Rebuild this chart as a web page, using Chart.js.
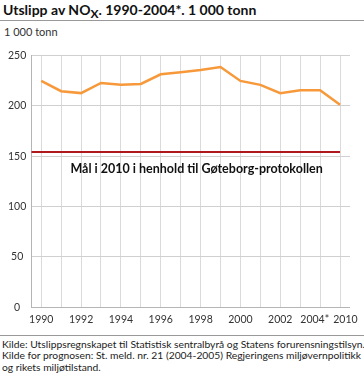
<!DOCTYPE html>
<html lang="no">
<head>
    <meta charset="UTF-8">
    <title>Utslipp av NOx</title>
    <script src="https://cdn.jsdelivr.net/npm/chart.js"></script>
    <style>
        body { margin: 0; width: 364px; height: 378px; position: relative; font-family: Lato, sans-serif; color: #222; background: #fff; overflow: hidden; }
        .title { position: absolute; left: 3px; top: 1px; font-size: 14px; font-weight: bold; white-space: nowrap; color: #111; }
        .title sub { font-size: 12px; vertical-align: -3px; }
        .rule { position: absolute; left: 0; width: 364px; height: 1px; background: #999; }
        .unit { position: absolute; left: 4px; top: 25px; font-size: 11px; color: #333; }
        .chartbox { position: absolute; left: 0; top: 44px; width: 364px; height: 288px; }
        .source { position: absolute; left: 2px; top: 339px; font-size: 10.3px; line-height: 11.3px; color: #222; white-space: nowrap; }
    </style>
</head>
<body>
    <div class="title">Utslipp av NO<sub>X</sub>. 1990-2004*. 1 000 tonn</div>
    <div class="rule" style="top:20px"></div>
    <div class="unit">1 000 tonn</div>
    <div class="chartbox"><canvas id="lineChart" width="364" height="288"></canvas></div>
    <div class="rule" style="top:335px"></div>
    <div class="source">Kilde: Utslippsregnskapet til Statistisk sentralbyrå og Statens forurensningstilsyn.<br>Kilde for prognosen: St. meld. nr. 21 (2004-2005) Regjeringens miljøvernpolitikk<br>og rikets miljøtilstand.</div>
    <script>
        // years on the x axis (2010 is the prognosis)
        var years = ['1990', '1991', '1992', '1993', '1994', '1995', '1996', '1997', '1998', '1999',
                     '2000', '2001', '2002', '2003', '2004*    ', '    2010'];

        // NOx emissions, 1 000 tonn
        var emissions = [224.6, 214.4, 212.5, 222.6, 220.7, 221.6, 231.2, 233.2, 235.5, 238.4,
                         224.6, 220.7, 212.5, 215.4, 215.4, 200.9];

        // target level from the Gothenburg protocol
        var target = 154;
        var targetLabel = 'Mål i 2010 i henhold til Gøteborg-protokollen';

        var yTicks = [0, 50, 100, 150, 200, 250];

        // writes the target text just under the red line
        var targetText = {
            id: 'targetText',
            afterDatasetsDraw: function (chart) {
                var ctx = chart.ctx;
                var area = chart.chartArea;
                var y = chart.scales.y.getPixelForValue(target);
                ctx.save();
                ctx.font = 'bold 12.5px Lato';
                ctx.fillStyle = '#111';
                ctx.textAlign = 'center';
                ctx.textBaseline = 'alphabetic';
                ctx.fillText(targetLabel, (area.left + area.right) / 2 + 6, y + 21);
                ctx.restore();
            }
        };

        var ctx = document.getElementById('lineChart').getContext('2d');
        var chart = new Chart(ctx, {
            type: 'line',
            data: {
                labels: years,
                datasets: [{
                    label: 'Utslipp',
                    data: emissions,
                    borderColor: '#f7993a',
                    borderWidth: 2.5,
                    pointRadius: 0,
                    tension: 0
                }, {
                    label: 'Mål',
                    data: [{ x: -0.5, y: target }, { x: years.length - 1, y: target }],
                    xAxisID: 'x2',
                    borderColor: '#b0181e',
                    borderWidth: 2,
                    pointRadius: 0
                }]
            },
            options: {
                responsive: false,
                animation: false,
                layout: { padding: { left: 3, right: 13, top: 9, bottom: 0 } },
                plugins: {
                    legend: { display: false },
                    tooltip: { enabled: false }
                },
                scales: {
                    x: {
                        type: 'category',
                        offset: true,
                        grid: { color: '#dadada', drawTicks: false, offset: false },
                        border: { color: '#b5b5b5' },
                        ticks: {
                            autoSkip: false,
                            maxRotation: 0,
                            padding: 6,
                            color: '#333',
                            font: { family: 'Lato', size: 10.5 },
                            callback: function (value, index) {
                                return (index % 2 === 0 || index === years.length - 1) ? years[index] : '';
                            }
                        }
                    },
                    x2: {
                        type: 'linear',
                        display: false,
                        min: -0.5,
                        max: years.length - 0.5
                    },
                    y: {
                        min: 0,
                        max: 250,
                        afterBuildTicks: function (axis) {
                            axis.ticks = yTicks.map(function (v) { return { value: v }; });
                        },
                        grid: { color: '#d0d0d0', drawTicks: false },
                        border: { color: '#b5b5b5' },
                        ticks: {
                            padding: 5,
                            crossAlign: 'center',
                            color: '#333',
                            font: { family: 'Lato', size: 10.5 }
                        }
                    }
                }
            },
            plugins: [targetText]
        });
    </script>
</body>
</html>
